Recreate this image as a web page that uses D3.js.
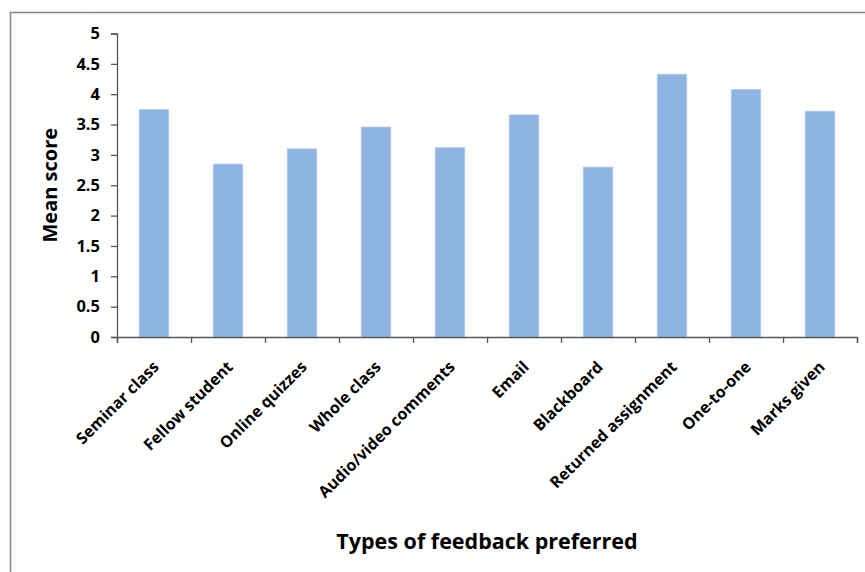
<!DOCTYPE html>
<html>
<head>
<meta charset="utf-8">
<script src="https://cdn.jsdelivr.net/npm/d3@7"></script>
<style>
  html, body { margin: 0; padding: 0; background: #fff; }
  svg { display: block; }
  text { font-family: "Open Sans", sans-serif; font-weight: bold; fill: #000; }
</style>
</head>
<body>
<svg id="chart" width="865" height="572"></svg>
<script>
// Preferred feedback types and their mean scores
const categories = [
  "Seminar class", "Fellow student", "Online quizzes", "Whole class",
  "Audio/video comments", "Email", "Blackboard", "Returned assignment",
  "One-to-one", "Marks given"
];
const meanScores = [3.75, 2.85, 3.1, 3.46, 3.12, 3.66, 2.8, 4.33, 4.08, 3.72];
const yTicks = [0, 0.5, 1, 1.5, 2, 2.5, 3, 3.5, 4, 4.5, 5];
const xTitle = "Types of feedback preferred";
const yTitle = "Mean score";

const svg = d3.select("#chart");
const plot = { left: 117, right: 857, top: 33.5, bottom: 337 };

// Outer chart frame (extends past the visible area on the right and bottom)
svg.append("rect")
  .attr("x", 10.5).attr("y", 12.5)
  .attr("width", 1000).attr("height", 1000)
  .attr("fill", "none")
  .attr("stroke", "#8a8a8a")
  .attr("stroke-width", 1.6);

const x = d3.scaleBand()
  .domain(categories)
  .range([plot.left, plot.right])
  .paddingInner(0.6)
  .paddingOuter(0.3);

// Category boundary ticks sit between bands
const xEdge = d3.scaleLinear()
  .domain([0, categories.length])
  .range([plot.left, plot.right]);

const y = d3.scaleLinear()
  .domain([0, 5])
  .range([plot.bottom, plot.top]);

// Bars
svg.append("g")
  .selectAll("rect")
  .data(meanScores)
  .join("rect")
  .attr("x", (d, i) => x(categories[i]))
  .attr("y", d => y(d))
  .attr("width", x.bandwidth())
  .attr("height", d => y(0) - y(d))
  .attr("fill", "#8eb4e3")
  .attr("stroke", "#b8cfee")
  .attr("stroke-width", 0.8);

// Y axis
const yAxis = svg.append("g")
  .attr("transform", `translate(${plot.left},0)`)
  .call(d3.axisLeft(y).tickValues(yTicks).tickSize(6).tickPadding(11)
    .tickFormat(d3.format("")));
yAxis.select(".domain").attr("stroke", "#555").attr("stroke-width", 1.3);
yAxis.selectAll(".tick line").attr("stroke", "#555").attr("stroke-width", 1.3);
yAxis.selectAll(".tick text")
  .attr("font-family", "Open Sans, sans-serif")
  .attr("font-weight", "bold")
  .attr("font-size", 16.5)
  .attr("fill", "#000");

// X axis: baseline with ticks at category boundaries
const xAxis = svg.append("g")
  .attr("transform", `translate(0,${plot.bottom})`)
  .call(d3.axisBottom(xEdge).ticks(categories.length).tickSize(6).tickSizeOuter(6)
    .tickFormat(""));
xAxis.select(".domain").attr("stroke", "#555").attr("stroke-width", 1.3);
xAxis.selectAll(".tick line").attr("stroke", "#555").attr("stroke-width", 1.3);

// Rotated category labels
svg.append("g")
  .selectAll("text")
  .data(categories)
  .join("text")
  .attr("transform", d => `translate(${x(d) + x.bandwidth() / 2 + 2},${plot.bottom + 27}) rotate(-45)`)
  .attr("text-anchor", "end")
  .attr("dy", "0.35em")
  .attr("font-size", 16)
  .text(d => d);

// Axis titles
svg.append("text")
  .attr("x", (plot.left + plot.right) / 2)
  .attr("y", 549)
  .attr("text-anchor", "middle")
  .attr("font-size", 21.5)
  .text(xTitle);

svg.append("text")
  .attr("transform", `translate(57,${(plot.top + plot.bottom) / 2}) rotate(-90)`)
  .attr("text-anchor", "middle")
  .attr("font-size", 20)
  .text(yTitle);
</script>
</body>
</html>
